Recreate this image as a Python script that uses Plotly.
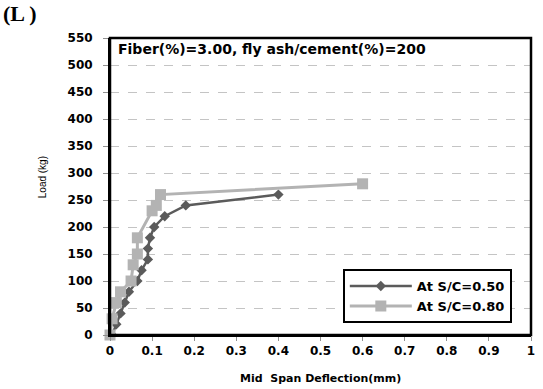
import plotly.graph_objects as go

# Load-deflection readings, mid span (mm) vs load (kg)
defl_sc050 = [0.005, 0.015, 0.025, 0.035, 0.045, 0.065, 0.075, 0.09, 0.09, 0.095, 0.105, 0.13, 0.18, 0.40]
load_sc050 = [0, 20, 40, 60, 80, 100, 120, 140, 160, 180, 200, 220, 240, 260]

defl_sc080 = [0.0, 0.005, 0.015, 0.025, 0.05, 0.055, 0.065, 0.065, 0.10, 0.11, 0.12, 0.60]
load_sc080 = [0, 30, 60, 80, 100, 130, 150, 180, 230, 240, 260, 280]

series_names = ["At S/C=0.50", "At S/C=0.80"]
x_ticks = [0, 0.1, 0.2, 0.3, 0.4, 0.5, 0.6, 0.7, 0.8, 0.9, 1]
x_tick_text = ["0", "0.1", "0.2", "0.3", "0.4", "0.5", "0.6", "0.7", "0.8", "0.9", "1"]

WIDE = "DejaVu Sans, Verdana, sans-serif"


def bold(size):
    return dict(family=WIDE, size=size, color="black", weight="bold")


fig = go.Figure()
fig.add_trace(go.Scatter(
    x=defl_sc050, y=load_sc050, name=series_names[0], mode="lines+markers",
    line=dict(color="#5b5b5b", width=2.5),
    marker=dict(symbol="diamond", size=8, color="#5b5b5b"),
    cliponaxis=False,
))
fig.add_trace(go.Scatter(
    x=defl_sc080, y=load_sc080, name=series_names[1], mode="lines+markers",
    line=dict(color="#b3b3b3", width=3),
    marker=dict(symbol="square", size=11, color="#b3b3b3"),
    cliponaxis=False,
))

fig.update_layout(
    width=543, height=389,
    margin=dict(l=110, r=12, t=38, b=54, autoexpand=False),
    paper_bgcolor="white", plot_bgcolor="white",
    font=bold(12),
    showlegend=True,
    legend=dict(
        x=0.553, y=0.04, xanchor="left", yanchor="bottom",
        bgcolor="white", bordercolor="black", borderwidth=2,
        font=bold(13),
        itemwidth=62, tracegroupgap=0,
    ),
    xaxis=dict(
        range=[0, 1], tickvals=x_ticks, ticktext=x_tick_text,
        showgrid=False, zeroline=False,
        showline=True, linecolor="black", linewidth=2,
        ticks="outside", ticklen=4, tickcolor="#909090",
        tickfont=bold(12),
    ),
    yaxis=dict(
        range=[0, 550], dtick=50,
        showgrid=True, gridcolor="#c4c4c4", griddash="dash", gridwidth=1,
        zeroline=False,
        showline=True, linecolor="black", linewidth=2,
        ticks="outside", ticklen=5, tickcolor="#909090",
        ticklabelstandoff=8,
        tickfont=bold(12),
    ),
)

# Frame around the plot area
fig.add_shape(type="rect", xref="paper", yref="paper", x0=0, x1=1, y0=0, y1=1,
              line=dict(color="black", width=2.5), layer="above")

fig.add_annotation(text="Fiber(%)=3.00, fly ash/cement(%)=200", xref="paper", yref="paper",
                   x=0.015, y=0.995, xanchor="left", yanchor="top", showarrow=False,
                   font=bold(14))
fig.add_annotation(text="Mid  Span Deflection(mm)", xref="paper", yref="paper",
                   x=0.5, y=-0.145, xanchor="center", yanchor="middle", showarrow=False,
                   font=bold(11))
fig.add_annotation(text="Load (kg)", xref="paper", yref="paper", x=-0.16, y=0.53,
                   xanchor="center", yanchor="middle", textangle=-90, showarrow=False,
                   font=dict(family="Liberation Sans, Arial, sans-serif", size=10,
                             color="black", weight="normal"))
fig.add_annotation(text="(L )", xref="paper", yref="paper", x=-0.258, y=1.13,
                   xanchor="left", yanchor="top", showarrow=False,
                   font=dict(family="Liberation Serif, Times New Roman, serif", size=22,
                             color="black", weight="bold"))

fig.write_html("out.html")
